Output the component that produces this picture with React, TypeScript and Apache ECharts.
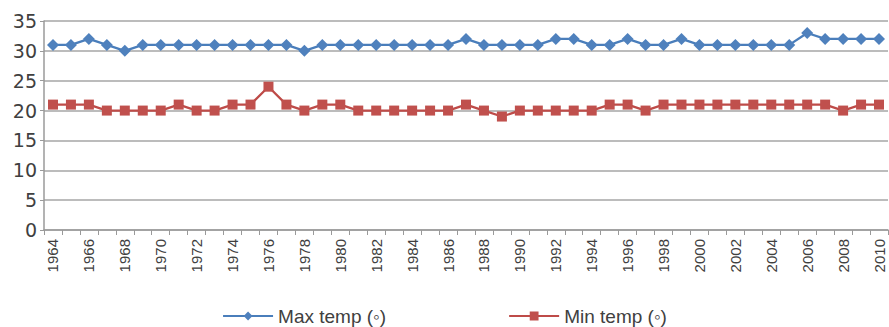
import React, { useEffect, useRef } from "react";
import * as echarts from "echarts";

const years: string[] = [];
for (let y = 1964; y <= 2010; y++) years.push(String(y));

const maxTemp = [
  31, 31, 32, 31, 30, 31, 31, 31, 31, 31, 31, 31, 31, 31, 30, 31, 31, 31, 31, 31, 31, 31, 31, 32,
  31, 31, 31, 31, 32, 32, 31, 31, 32, 31, 31, 32, 31, 31, 31, 31, 31, 31, 33, 32, 32, 32, 32,
];

const minTemp = [
  21, 21, 21, 20, 20, 20, 20, 21, 20, 20, 21, 21, 24, 21, 20, 21, 21, 20, 20, 20, 20, 20, 20, 21,
  20, 19, 20, 20, 20, 20, 20, 21, 21, 20, 21, 21, 21, 21, 21, 21, 21, 21, 21, 21, 20, 21, 21,
];

const seriesNames = ["Max temp (◦)", "Min temp (◦)"];

export default function App() {
  const ref = useRef<HTMLDivElement>(null);
  useEffect(() => {
    if (!ref.current) return;
    const chart = echarts.init(ref.current, null, { renderer: "svg" });
    const font = "'Liberation Sans', 'DejaVu Sans', sans-serif";
    const wide = "'DejaVu Sans', sans-serif";
    chart.setOption({
      animation: false,
      backgroundColor: "#ffffff",
      grid: { left: 44, right: 1, top: 21, bottom: 97, containLabel: false },
      legend: {
        data: seriesNames,
        top: 300,
        left: "center",
        itemGap: 122,
        itemWidth: 50,
        itemHeight: 11,
        textStyle: { fontSize: 19, color: "#404040", fontFamily: font, lineHeight: 22 },
      },
      xAxis: {
        type: "category",
        data: years,
        boundaryGap: true,
        axisLine: { lineStyle: { color: "#9a9a9a", width: 1.5 } },
        axisTick: { show: true, interval: 0, alignWithLabel: false, length: 5, lineStyle: { color: "#9a9a9a" } },
        axisLabel: {
          interval: 1,
          rotate: 90,
          fontSize: 15,
          margin: 9,
          color: "#404040",
          fontFamily: font,
        },
        splitLine: { show: false },
      },
      yAxis: {
        type: "value",
        min: 0,
        max: 35,
        interval: 5,
        axisLine: { show: true, lineStyle: { color: "#9a9a9a", width: 1.5 } },
        axisTick: { show: true, length: 4, lineStyle: { color: "#9a9a9a" } },
        axisLabel: { fontSize: 19, margin: 7, color: "#404040", fontFamily: wide },
        splitLine: { lineStyle: { color: "#a6a6a6", width: 1.5 } },
      },
      series: [
        {
          name: seriesNames[0],
          type: "line",
          data: maxTemp,
          symbol: "diamond",
          symbolSize: 12,
          showSymbol: true,
          showAllSymbol: true,
          lineStyle: { color: "#4a7ebb", width: 2.25 },
          itemStyle: { color: "#4f81bd" },
        },
        {
          name: seriesNames[1],
          type: "line",
          data: minTemp,
          symbol: "rect",
          symbolSize: 10,
          showSymbol: true,
          showAllSymbol: true,
          lineStyle: { color: "#be4b48", width: 2.25 },
          itemStyle: { color: "#c0504d" },
        },
      ],
    });
    return () => chart.dispose();
  }, []);
  return (
    <div
      ref={ref}
      style={{ position: "fixed", left: 0, top: 0, width: 889, height: 327 }}
    />
  );
}
